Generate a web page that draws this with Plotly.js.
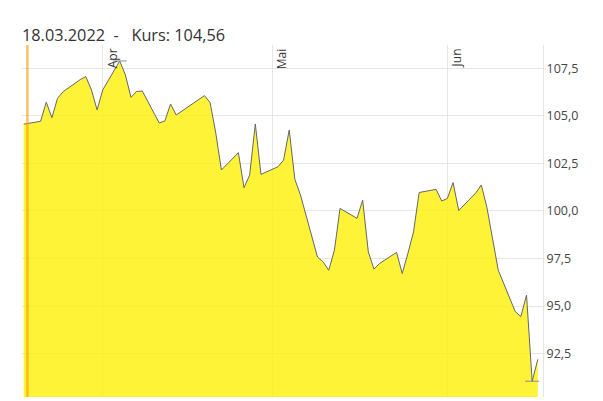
<!DOCTYPE html>
<html>
<head>
<meta charset="utf-8">
<script src="https://cdn.plot.ly/plotly-3.0.1.min.js"></script>
<style>
  html, body { margin: 0; padding: 0; background: #fff; }
  #chart { width: 603px; height: 401px; }
</style>
</head>
<body>
<div id="chart"></div>
<script>
// Trading days (18.03.2022 – 17.06.2022)
const dates = [
  '2022-03-18','2022-03-21','2022-03-22','2022-03-23','2022-03-24','2022-03-25',
  '2022-03-28','2022-03-29','2022-03-30','2022-03-31','2022-04-01',
  '2022-04-04','2022-04-05','2022-04-06','2022-04-07','2022-04-08',
  '2022-04-11','2022-04-12','2022-04-13','2022-04-14',
  '2022-04-19','2022-04-20','2022-04-21','2022-04-22',
  '2022-04-25','2022-04-26','2022-04-27','2022-04-28','2022-04-29',
  '2022-05-02','2022-05-03','2022-05-04','2022-05-05','2022-05-06',
  '2022-05-09','2022-05-10','2022-05-11','2022-05-12','2022-05-13',
  '2022-05-16','2022-05-17','2022-05-18','2022-05-19','2022-05-20',
  '2022-05-23','2022-05-24','2022-05-25','2022-05-26','2022-05-27',
  '2022-05-30','2022-05-31','2022-06-01','2022-06-02','2022-06-03',
  '2022-06-06','2022-06-07','2022-06-08','2022-06-09','2022-06-10',
  '2022-06-13','2022-06-14','2022-06-15','2022-06-16','2022-06-17'
];
const kurs = [
  104.56,104.71,105.71,104.90,105.92,106.27,
  106.90,107.06,106.36,105.31,106.36,
  107.88,107.15,105.97,106.28,106.30,
  104.62,104.73,105.62,105.04,
  106.06,105.69,104.10,102.15,
  103.06,101.22,101.88,104.57,101.92,
  102.32,102.67,104.25,101.66,100.83,
  97.58,97.32,96.88,97.94,100.13,
  99.61,100.57,97.85,96.94,97.24,
  97.82,96.71,97.76,98.90,100.97,
  101.13,100.52,100.66,101.49,100.02,
  100.94,101.36,100.17,98.60,96.88,
  94.71,94.45,95.58,91.05,92.20
];
const monthTicks = ['2022-04-01','2022-05-01','2022-06-01'];
const monthLabels = ['Apr','Mai','Jun'];
const cursorTime = '2022-03-18 16:00';

// max / min markers
let iMax = 0, iMin = 0;
kurs.forEach((v, i) => { if (v > kurs[iMax]) iMax = i; if (v < kurs[iMin]) iMin = i; });

function fmtDate(s) { const p = s.split('-'); return p[2] + '.' + p[1] + '.' + p[0]; }
const titleText = fmtDate(dates[0]) + '\u00a0\u00a0-\u00a0\u00a0\u00a0Kurs: ' + kurs[0].toFixed(2).replace('.', ',');

const traces = [
  {
    type: 'scatter', mode: 'lines', x: dates, y: kurs,
    line: { color: '#666666', width: 1 },
    fill: 'tozeroy', fillcolor: 'rgba(255,240,0,0.78)',
    hoverinfo: 'skip'
  },
  {
    type: 'scatter', mode: 'markers',
    x: [dates[iMax], dates[iMin]], y: [kurs[iMax], kurs[iMin]],
    marker: { symbol: 'line-ew', size: 10, line: { color: '#858b99', width: 1 } },
    hoverinfo: 'skip', cliponaxis: false
  }
];

const monthAnnotations = monthTicks.map((d, i) => ({
  xref: 'x', yref: 'paper', x: d, y: 1,
  xanchor: 'left', yanchor: 'top', xshift: -1, yshift: -1,
  text: monthLabels[i], textangle: -90, showarrow: false,
  font: { family: 'Open Sans', size: 12, color: '#333' }
}));

const layout = {
  width: 603, height: 401,
  margin: { l: 22, r: 60, t: 45, b: 4 },
  paper_bgcolor: '#ffffff', plot_bgcolor: '#ffffff',
  showlegend: false, hovermode: false,
  separators: ', ',
  font: { family: 'Open Sans', color: '#444' },
  title: {
    text: titleText,
    font: { family: 'Open Sans', size: 16.3, color: '#333' },
    xref: 'paper', x: 0, xanchor: 'left',
    yref: 'container', y: 1 - 35 / 401, yanchor: 'middle'
  },
  xaxis: {
    type: 'date',
    range: ['2022-03-17 17:00', '2022-06-17 22:00'],
    tickvals: monthTicks, ticktext: monthLabels,
    showticklabels: false,
    ticks: '',
    showgrid: true, gridcolor: '#e6e6e6', gridwidth: 1,
    zeroline: false, showline: false
  },
  yaxis: {
    side: 'right',
    range: [90.22, 108.72],
    tick0: 0, dtick: 2.5,
    tickformat: '.1f',
    ticks: '',
    tickfont: { family: 'Open Sans', size: 12.5, color: '#444' },
    showgrid: true, gridcolor: '#e6e6e6', gridwidth: 1,
    zeroline: false, showline: true, linecolor: '#e6e6e6', linewidth: 1
  },
  annotations: monthAnnotations,
  shapes: [
    {
      type: 'line', xref: 'x', yref: 'paper',
      x0: cursorTime, x1: cursorTime, y0: 0, y1: 1,
      line: { color: 'rgba(255,150,0,0.6)', width: 2.5 }
    }
  ]
};

Plotly.newPlot('chart', traces, layout, { displayModeBar: false, staticPlot: true });
</script>
</body>
</html>
